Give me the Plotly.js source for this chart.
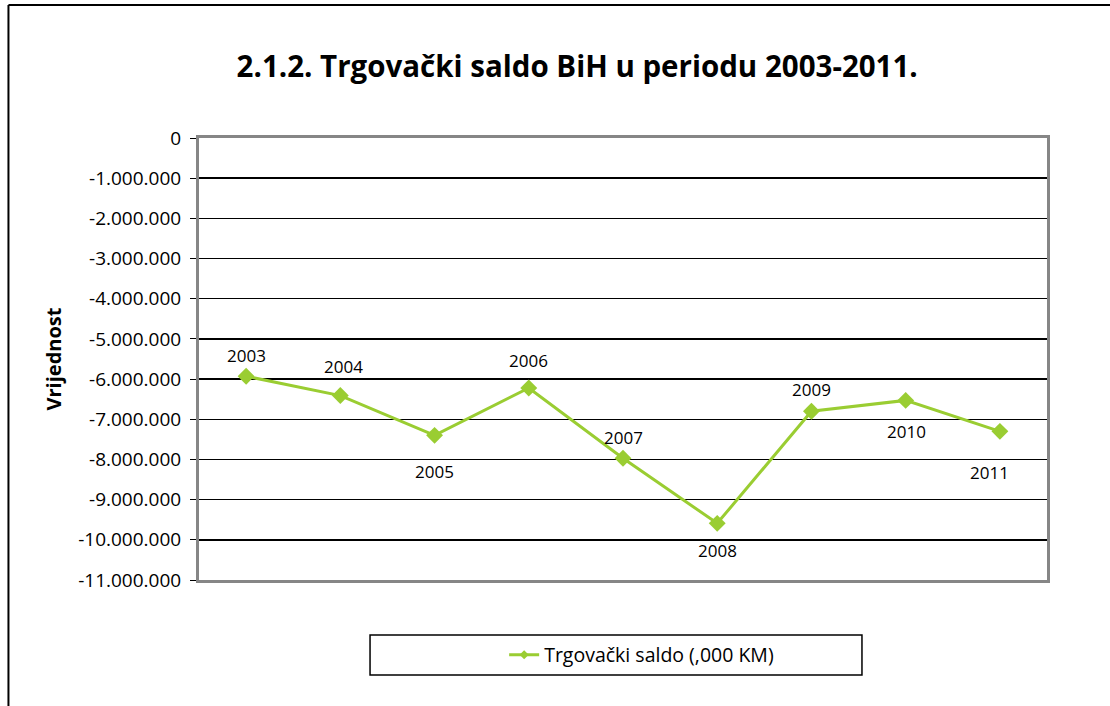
<!DOCTYPE html>
<html>
<head>
<meta charset="utf-8">
<script src="https://cdn.plot.ly/plotly-3.0.1.min.js"></script>
<style>
  html, body { margin: 0; padding: 0; background: #fff; }
  #graph { width: 1110px; height: 706px; }
</style>
</head>
<body>
<div id="graph"></div>
<script>
// years and trade balance (,000 KM)
var years = ['2003', '2004', '2005', '2006', '2007', '2008', '2009', '2010', '2011'];
var saldo = [-5930000, -6410000, -7400000, -6220000, -7970000, -9590000, -6800000, -6530000, -7300000];

// where each year label sits relative to its point (px)
var labelDy = [21, 29, -36, 27, 21, -27, 22, -31, -41];
var labelDx = [0, 3, 0, 0, 0, 0, 0, 1, -10];

var tickVals = [0, -1000000, -2000000, -3000000, -4000000, -5000000, -6000000,
                -7000000, -8000000, -9000000, -10000000, -11000000];
var tickLabels = ['0', '-1.000.000', '-2.000.000', '-3.000.000', '-4.000.000', '-5.000.000',
                  '-6.000.000', '-7.000.000', '-8.000.000', '-9.000.000', '-10.000.000', '-11.000.000'];

var seriesName = 'Trgovački saldo (,000 KM)';
var green = '#9acd32';
var font = 'Open Sans, Noto Sans, sans-serif';

var trace = {
  type: 'scatter',
  mode: 'lines+markers',
  name: seriesName,
  x: years,
  y: saldo,
  line: {color: green, width: 3},
  marker: {symbol: 'diamond', size: 13, color: green},
  cliponaxis: false,
  showlegend: false,
  hoverinfo: 'x+y'
};

// legend entry only (small diamond like the original key)
var legendTrace = {
  type: 'scatter',
  mode: 'lines+markers',
  name: seriesName,
  x: [years[0]],
  y: [null],
  line: {color: green, width: 3},
  marker: {symbol: 'diamond', size: 7, color: green},
  showlegend: true
};

// year labels next to the points; x is the category index on the category axis
var annotations = years.map(function(yr, i) {
  return {
    x: i, y: saldo[i], xref: 'x', yref: 'y',
    text: yr, showarrow: false,
    xshift: labelDx[i], yshift: labelDy[i],
    font: {family: font, size: 17, color: '#000'}
  };
});

var layout = {
  width: 1110,
  height: 706,
  margin: {l: 199, r: 63, t: 138, b: 126},
  paper_bgcolor: '#fff',
  plot_bgcolor: '#fff',
  font: {family: font, color: '#000'},
  title: {
    text: '<b>2.1.2. Trgovački saldo BiH u periodu 2003-2011.</b>',
    font: {family: font, size: 29.5, color: '#000'},
    x: 0.52, xanchor: 'center',
    y: 0.905, yanchor: 'middle'
  },
  xaxis: {
    type: 'category',
    categoryorder: 'array',
    categoryarray: years,
    range: [-0.5, years.length - 0.5],
    showticklabels: false,
    ticks: '',
    showgrid: false,
    zeroline: false,
    showline: true,
    linecolor: '#868686',
    linewidth: 3,
    mirror: true,
    fixedrange: true
  },
  yaxis: {
    range: [-11000000, 0],
    tickvals: tickVals,
    ticktext: tickLabels,
    tickfont: {family: font, size: 19, color: '#000'},
    ticks: 'outside',
    ticklen: 6,
    tickcolor: '#000',
    tickwidth: 1,
    ticklabelstandoff: 5,
    showgrid: true,
    gridcolor: '#000',
    gridwidth: 1.5,
    zeroline: false,
    showline: true,
    linecolor: '#868686',
    linewidth: 3,
    mirror: true,
    title: {
      text: '<b>Vrijednost</b>',
      font: {family: font, size: 20, color: '#000'},
      standoff: 12
    },
    fixedrange: true
  },
  showlegend: true,
  legend: {
    orientation: 'h',
    x: 0.522, xanchor: 'center',
    y: -0.1697, yanchor: 'middle',
    font: {family: font, size: 19.5, color: '#000'},
    bgcolor: 'rgba(0,0,0,0)'
  },
  annotations: annotations,
  shapes: [
    // legend frame
    {type: 'rect', xref: 'paper', yref: 'paper',
     x0: 0.2017, x1: 0.7818, y0: -0.2149, y1: -0.1244,
     line: {color: '#000', width: 1.5}},
    // outer chart frame (left and top edges)
    {type: 'line', xref: 'paper', yref: 'paper',
     x0: -0.2247, x1: -0.2247, y0: -0.29, y1: 1.3009,
     line: {color: '#000', width: 2}},
    {type: 'line', xref: 'paper', yref: 'paper',
     x0: -0.2247, x1: 1.08, y0: 1.3009, y1: 1.3009,
     line: {color: '#000', width: 2}}
  ]
};

Plotly.newPlot('graph', [trace, legendTrace], layout, {displayModeBar: false, staticPlot: true});
</script>
</body>
</html>
